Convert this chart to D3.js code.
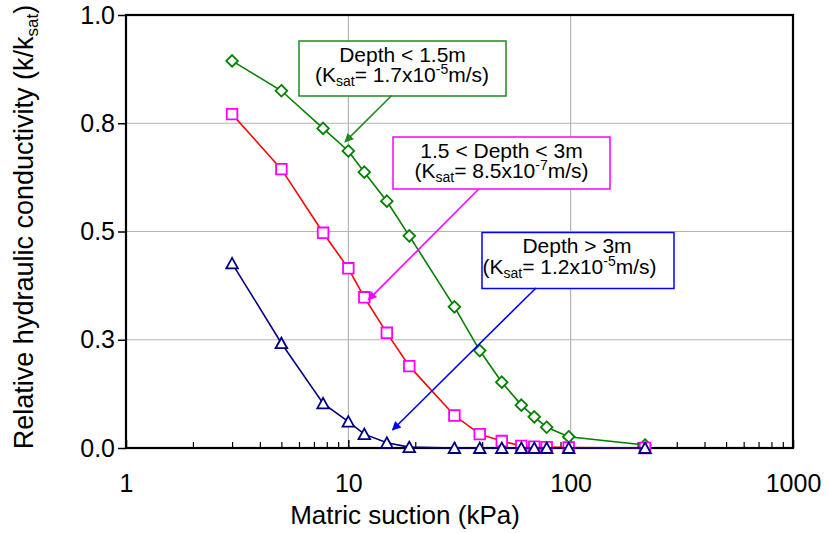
<!DOCTYPE html>
<html>
<head>
<meta charset="utf-8">
<script src="https://cdn.jsdelivr.net/npm/d3@7"></script>
<style>
  body { margin: 0; background: #fff; }
  svg { font-family: Arial, "Liberation Sans", sans-serif; }
</style>
</head>
<body>
<div id="chart"></div>
<script>
// matric suction (kPa), shared by all three depth ranges
const suction = [3, 5, 7.7, 10, 11.8, 14.9, 18.8, 30, 39, 49, 60, 68.6, 78, 98, 216];
// relative hydraulic conductivity k/ksat
const kShallow = [0.894, 0.825, 0.738, 0.686, 0.637, 0.570, 0.490, 0.326, 0.225, 0.152, 0.099, 0.072, 0.048, 0.026, 0.007];
const kMiddle = [0.771, 0.644, 0.497, 0.415, 0.348, 0.266, 0.189, 0.075, 0.032, 0.016, 0.005, 0.003, 0.002, 0.001, 0.0];
const kDeep = [0.4265, 0.242, 0.103, 0.061, 0.032, 0.012, 0.002, 0, 0, 0, 0, 0, 0, 0, 0];

const xTicks = [1, 10, 100, 1000];
const xTickLabels = ["1", "10", "100", "1000"];
const yTicks = [0, 0.25, 0.5, 0.75, 1.0];
const yTickLabels = ["0.0", "0.3", "0.5", "0.8", "1.0"];

const width = 828, height = 533;
const margin = { top: 15, right: 35, bottom: 85, left: 126 };

const svg = d3.select("#chart").append("svg").attr("width", width).attr("height", height);

const x = d3.scaleLog().domain([1, 1000]).range([margin.left, width - margin.right]);
const y = d3.scaleLinear().domain([0, 1]).range([height - margin.bottom, margin.top]);

// gridlines
svg.append("g").selectAll("line").data([10, 100]).enter().append("line")
  .attr("x1", d => x(d)).attr("x2", d => x(d))
  .attr("y1", y(0)).attr("y2", y(1))
  .attr("stroke", "#a6a6a6").attr("stroke-width", 1);
svg.append("g").selectAll("line").data([0.25, 0.5, 0.75]).enter().append("line")
  .attr("x1", x(1)).attr("x2", x(1000))
  .attr("y1", d => y(d)).attr("y2", d => y(d))
  .attr("stroke", "#b4b4b4").attr("stroke-width", 1);

// y axis
const yAxis = svg.append("g").attr("transform", "translate(" + x(1) + ",0)")
  .call(d3.axisLeft(y).tickValues(yTicks).tickFormat((d, i) => yTickLabels[i]).tickSize(8).tickPadding(3));
yAxis.select(".domain").remove();
yAxis.selectAll("line").attr("stroke", "#000").attr("stroke-width", 1.5);
yAxis.selectAll("text").attr("font-size", 25).attr("fill", "#000").attr("font-family", "Arial, 'Liberation Sans', sans-serif");

// x axis: major labels and minor ticks
const minor = [];
[1, 10, 100].forEach(dec => { for (let m = 2; m <= 9; m++) minor.push(dec * m); });
const xMinor = svg.append("g").attr("transform", "translate(0," + y(0) + ")")
  .call(d3.axisBottom(x).tickValues(minor).tickFormat("").tickSize(-6));
xMinor.select(".domain").remove();
xMinor.selectAll("line").attr("stroke", "#000").attr("stroke-width", 1.2);

const xAxis = svg.append("g").attr("transform", "translate(0," + y(0) + ")")
  .call(d3.axisBottom(x).tickValues(xTicks).tickFormat((d, i) => xTickLabels[i]).tickSize(-8).tickPadding(26));
xAxis.select(".domain").remove();
xAxis.selectAll("line").attr("stroke", "#000").attr("stroke-width", 1.5);
xAxis.selectAll("text").attr("font-size", 25).attr("fill", "#000").attr("font-family", "Arial, 'Liberation Sans', sans-serif");

// frame
svg.append("rect")
  .attr("x", x(1)).attr("y", y(1))
  .attr("width", x(1000) - x(1)).attr("height", y(0) - y(1))
  .attr("fill", "none").attr("stroke", "#000").attr("stroke-width", 2.2);

// axis titles
svg.append("text")
  .attr("x", 405).attr("y", 524)
  .attr("text-anchor", "middle").attr("font-size", 26)
  .text("Matric suction (kPa)");

const yTitle = svg.append("text")
  .attr("transform", "translate(33,227) rotate(-90)")
  .attr("text-anchor", "middle").attr("font-size", 27);
yTitle.append("tspan").text("Relative hydraulic conductivity (k/k");
yTitle.append("tspan").attr("font-size", 17).attr("dy", 5).text("sat");
yTitle.append("tspan").attr("dy", -5).text(")");

// series
const markers = {
  diamond: "M0,-5.8L5.8,0L0,5.8L-5.8,0Z",
  square: "M-5.3,-5.3H5.3V5.3H-5.3Z",
  triangle: "M0,-5.5L5.8,5L-5.8,5Z"
};

const series = [
  { values: kShallow, line: "#008000", mark: "#008000", shape: "diamond" },
  { values: kMiddle, line: "#ff0000", mark: "#ff00ff", shape: "square" },
  { values: kDeep, line: "#000080", mark: "#000080", shape: "triangle" }
];

const line = d3.line().x(d => x(d[0])).y(d => y(d[1]));

series.forEach(s => {
  const pts = suction.map((v, i) => [v, s.values[i]]);
  const g = svg.append("g");
  g.append("path").attr("d", line(pts))
    .attr("fill", "none").attr("stroke", s.line).attr("stroke-width", 1.6);
  g.selectAll("path.mk").data(pts).enter().append("path")
    .attr("class", "mk")
    .attr("d", markers[s.shape])
    .attr("transform", d => "translate(" + x(d[0]) + "," + y(d[1]) + ")")
    .attr("fill", "#fff").attr("stroke", s.mark).attr("stroke-width", 1.8);
});

// annotations
const notes = [
  { color: "#1f8a1f", box: [299, 41, 207, 55], cx: [402.5, 402], lead: "Depth < 1.5m", ksat: "1.7", exp: "-5",
    from: [391.7, 95.5], to: [9.66, 0.707] },
  { color: "#ff00ff", box: [393, 137, 217, 52], cx: [501.5, 501.5], lead: "1.5 < Depth < 3m", ksat: "8.5", exp: "-7",
    from: [478.3, 189.5], to: [12.3, 0.342] },
  { color: "#0000ff", box: [482, 232.5, 192, 56], cx: [577, 569.5], lead: "Depth > 3m", ksat: "1.2", exp: "-5",
    from: [536, 288], to: [15.8, 0.0416] }
];

const defs = svg.append("defs");
notes.forEach((n, i) => {
  defs.append("marker").attr("id", "arrow" + i)
    .attr("viewBox", "0 0 10 10").attr("refX", 9).attr("refY", 5)
    .attr("markerWidth", 11).attr("markerHeight", 9).attr("markerUnits", "userSpaceOnUse")
    .attr("orient", "auto")
    .append("path").attr("d", "M0,0L10,5L0,10Z").attr("fill", n.color);
});

notes.forEach((n, i) => {
  const g = svg.append("g");
  g.append("rect")
    .attr("x", n.box[0]).attr("y", n.box[1]).attr("width", n.box[2]).attr("height", n.box[3])
    .attr("fill", "#fff").attr("stroke", n.color).attr("stroke-width", 1.5);
  g.append("text").attr("x", n.cx[0]).attr("y", n.box[1] + 20.5)
    .attr("text-anchor", "middle").attr("font-size", 21).text(n.lead);
  const t = g.append("text").attr("x", n.cx[1]).attr("y", n.box[1] + 41)
    .attr("text-anchor", "middle").attr("font-size", 21);
  t.append("tspan").text("(K");
  t.append("tspan").attr("font-size", 14).attr("dy", 4).text("sat");
  t.append("tspan").attr("dy", -4).text("= " + n.ksat + "x10");
  t.append("tspan").attr("font-size", 14).attr("dy", -8).text(n.exp);
  t.append("tspan").attr("dy", 8).text("m/s)");
  svg.append("line")
    .attr("x1", n.from[0]).attr("y1", n.from[1])
    .attr("x2", x(n.to[0])).attr("y2", y(n.to[1]))
    .attr("stroke", n.color).attr("stroke-width", 1.6)
    .attr("marker-end", "url(#arrow" + i + ")");
});
</script>
</body>
</html>
